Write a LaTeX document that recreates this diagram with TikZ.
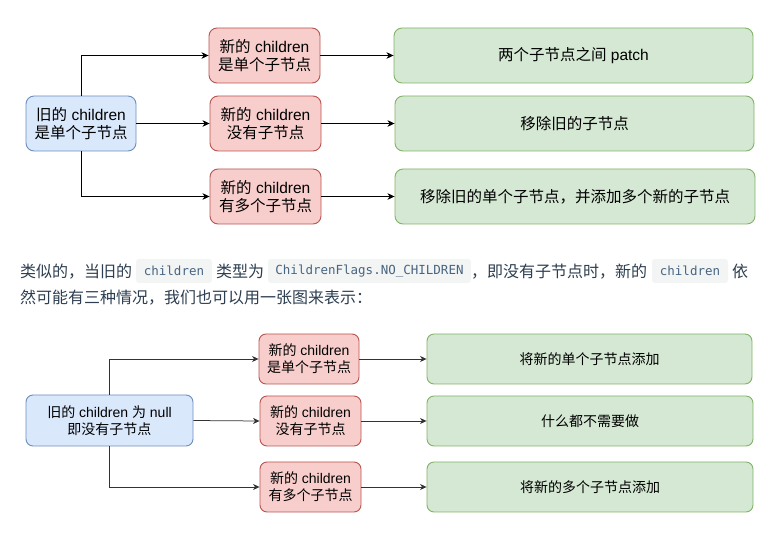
\documentclass[tikz,border=0pt]{standalone}
\usepackage{fontspec}
\setmainfont{Noto Sans CJK SC}
\newfontfamily\lat{Liberation Sans}
\newfontfamily\mono{DejaVu Sans Mono}
\usetikzlibrary{arrows.meta}
\definecolor{bluefill}{HTML}{DAE8FC}
\definecolor{bluedraw}{HTML}{6C8EBF}
\definecolor{redfill}{HTML}{F8CECC}
\definecolor{reddraw}{HTML}{B85450}
\definecolor{greenfill}{HTML}{D5E8D4}
\definecolor{greendraw}{HTML}{82B366}
\definecolor{parcolor}{HTML}{2C3E50}
\definecolor{codecolor}{HTML}{476582}
\definecolor{codebg}{HTML}{F3F4F4}
\tikzset{
  box/.style={rounded corners=8pt, draw, line width=0.9pt, align=center, inner sep=0pt, text=black},
  oldbox/.style={box, fill=bluefill, draw=bluedraw},
  newbox/.style={box, fill=redfill, draw=reddraw},
  resbox/.style={box, fill=greenfill, draw=greendraw},
  topfont/.style={font=\fontsize{15.5}{18}\selectfont},
  botfont/.style={font=\fontsize{14}{16.7}\selectfont},
  conn/.style={-{Stealth[length=7pt,width=6.5pt,inset=2pt]}, line width=0.9pt, draw=black},
  connb/.style={-{Stealth[length=6.5pt,width=6pt,inset=2pt]}, line width=0.75pt, draw=black!80},
  para/.style={anchor=base west, inner sep=0pt, text=parcolor, font=\fontsize{16}{20}\selectfont},
  codebox/.style={fill=codebg, rounded corners=3pt, text=codecolor, font=\mono\fontsize{12.5}{15}\selectfont, minimum height=24pt, inner sep=0pt}
}
\begin{document}
\begin{tikzpicture}[x=1pt,y=-1pt]
\useasboundingbox (0,0) rectangle (777,534);

% ---------- top diagram ----------
\node[oldbox, topfont, minimum width=110pt, minimum height=55pt] (old1) at (81,123.5) {旧的{\lat\ children}\\是单个子节点};
\node[newbox, topfont, minimum width=111pt, minimum height=55pt] (n1a) at (264.5,55.5) {新的{\lat\ children}\\是单个子节点};
\node[newbox, topfont, minimum width=111pt, minimum height=55pt] (n1b) at (265.5,123.5) {新的{\lat\ children}\\没有子节点};
\node[newbox, topfont, minimum width=111pt, minimum height=55pt] (n1c) at (265.5,196.5) {新的{\lat\ children}\\有多个子节点};
\node[resbox, topfont, minimum width=359pt, minimum height=55pt] (g1a) at (573.5,55.5) {两个子节点之间{\lat\ patch}};
\node[resbox, topfont, minimum width=359pt, minimum height=55pt] (g1b) at (574.5,123.5) {移除旧的子节点};
\node[resbox, topfont, minimum width=360pt, minimum height=55pt] (g1c) at (575,196.5) {移除旧的单个子节点，并添加多个新的子节点};

\draw[conn] (old1.north) |- (n1a.west);
\draw[conn] (old1.east) -- (n1b.west);
\draw[conn] (old1.south) |- (n1c.west);
\draw[conn] (n1a.east) -- (g1a.west);
\draw[conn] (n1b.east) -- (g1b.west);
\draw[conn] (n1c.east) -- (g1c.west);

% ---------- paragraph ----------
\node[para] (p1) at (20,278) {类似的，当旧的};
\node[codebox, minimum width=76pt] (c1) at (174,271) {children};
\node[para] (p2) at (216,278) {类型为};
\node[codebox, minimum width=203pt] (c2) at (369.5,271) {ChildrenFlags.NO\_CHILDREN};
\node[para] (p3) at (471,278) {，即没有子节点时，新的};
\node[codebox, minimum width=76pt] (c3) at (690,271) {children};
\node[para] (p4) at (732,278) {依};
\node[para] (p5) at (20,304) {然可能有三种情况，我们也可以用一张图来表示：};

% ---------- bottom diagram ----------
\node[oldbox, botfont, rounded corners=7pt, minimum width=167pt, minimum height=51pt] (old2) at (109.5,420.5) {旧的{\lat\ children }为{\lat\ null}\\即没有子节点};
\node[newbox, botfont, rounded corners=7pt, minimum width=100pt, minimum height=50pt] (n2a) at (309,359) {新的{\lat\ children}\\是单个子节点};
\node[newbox, botfont, rounded corners=7pt, minimum width=101pt, minimum height=50pt] (n2b) at (310.5,421) {新的{\lat\ children}\\没有子节点};
\node[newbox, botfont, rounded corners=7pt, minimum width=101pt, minimum height=50pt] (n2c) at (310.5,487) {新的{\lat\ children}\\有多个子节点};
\node[resbox, botfont, rounded corners=7pt, minimum width=325pt, minimum height=50pt] (g2a) at (589.5,359) {将新的单个子节点添加};
\node[resbox, botfont, rounded corners=7pt, minimum width=326pt, minimum height=50pt] (g2b) at (590,421) {什么都不需要做};
\node[resbox, botfont, rounded corners=7pt, minimum width=326pt, minimum height=50pt] (g2c) at (590,487) {将新的多个子节点添加};

\draw[connb] (old2.north) |- (n2a.west);
\draw[connb] (old2.east) -- (n2b.west);
\draw[connb] (old2.south) |- (n2c.west);
\draw[connb] (n2a.east) -- (g2a.west);
\draw[connb] (n2b.east) -- (g2b.west);
\draw[connb] (n2c.east) -- (g2c.west);
\end{tikzpicture}
\end{document}
